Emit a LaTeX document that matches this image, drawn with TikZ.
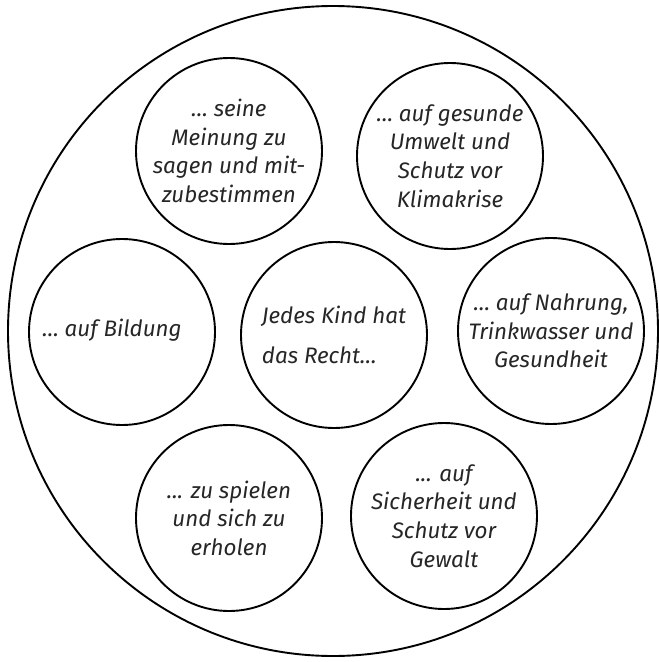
\documentclass[tikz,border=0pt]{standalone}
\usepackage{fontspec}
\setmainfont{Fira Sans}
\begin{document}
\begin{tikzpicture}[x=1pt,y=-1pt,
  bubble/.style={circle,draw=black,line width=1.9pt,minimum size=186pt,inner sep=0pt,
    align=center,text=black!85,font=\fontsize{22.4}{28.6}\selectfont\itshape}]
\useasboundingbox (0,0) rectangle (659,662);
\node[circle,draw=black,line width=1.9pt,minimum size=650pt,inner sep=0pt] (outer) at (333,331) {};
\node[bubble] (meinung) at (229,151) {… seine\\Meinung zu\\sagen und mit-\\zubestimmen};
\node[bubble] (umwelt) at (450,156) {… auf gesunde\\Umwelt und\\Schutz vor\\Klimakrise};
\node[bubble] (bildung) at (122,332) {};
\node[text=black!85,font=\fontsize{22.4}{28.6}\selectfont\itshape] (bildungtext) at (112,330) {… auf Bildung};
\node[bubble,align=left,font=\fontsize{22.4}{40}\selectfont\itshape] (kind) at (334,335) {Jedes Kind hat\\das Recht…};
\node[bubble] (nahrung) at (551,331) {… auf Nahrung,\\Trinkwasser und\\Gesundheit};
\node[bubble] (spielen) at (229,518) {... zu spielen\\und sich zu\\erholen};
\node[bubble] (gewalt) at (444,516) {... auf\\Sicherheit und\\Schutz vor\\Gewalt};
\end{tikzpicture}
\end{document}
